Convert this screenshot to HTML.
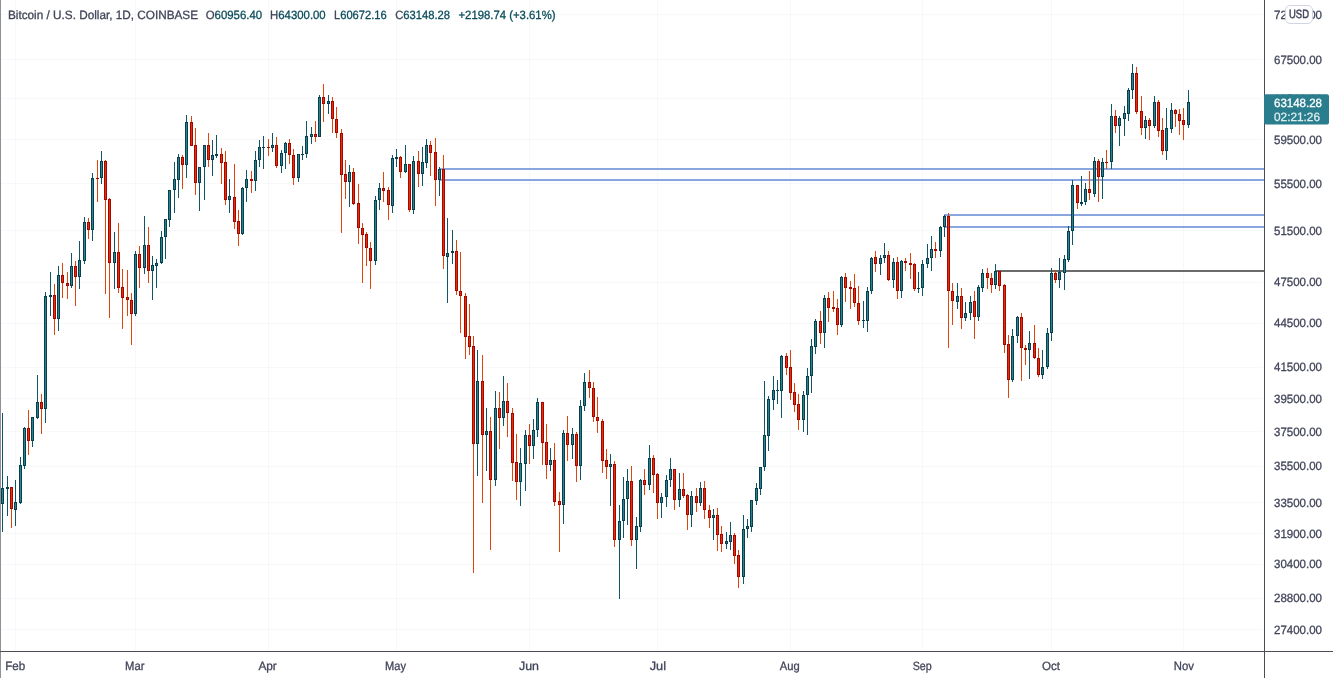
<!DOCTYPE html>
<html lang="en"><head><meta charset="utf-8"><title>BTCUSD 1D COINBASE</title>
<style>html,body{margin:0;padding:0;background:#fff;overflow:hidden}svg{display:block}text{font-family:"Liberation Sans","DejaVu Sans",sans-serif;font-size:12px;fill:#43465a;stroke:#43465a;stroke-width:.3px}.g{fill:#6a7899;fill-opacity:.055}.ub{fill:#06404d}.uf{fill:#2c8291}.uw{fill:#0f5766}.db{fill:#a80500}.df{fill:#df3206}.dw{fill:#e2440e}.bl{fill:#89a6df}.t{fill:#0b4c5c;stroke:#0b4c5c}</style></head><body>
<svg width="1333" height="678" viewBox="0 0 1333 678" shape-rendering="crispEdges">
<rect width="1333" height="678" fill="#fff"/>
<g class="g">
<rect x="1" y="14" width="1262" height="1"/>
<rect x="1" y="59" width="1262" height="1"/>
<rect x="1" y="98" width="1262" height="1"/>
<rect x="1" y="139" width="1262" height="1"/>
<rect x="1" y="183" width="1262" height="1"/>
<rect x="1" y="230" width="1262" height="1"/>
<rect x="1" y="282" width="1262" height="1"/>
<rect x="1" y="323" width="1262" height="1"/>
<rect x="1" y="367" width="1262" height="1"/>
<rect x="1" y="398" width="1262" height="1"/>
<rect x="1" y="431" width="1262" height="1"/>
<rect x="1" y="466" width="1262" height="1"/>
<rect x="1" y="502" width="1262" height="1"/>
<rect x="1" y="533" width="1262" height="1"/>
<rect x="1" y="564" width="1262" height="1"/>
<rect x="1" y="598" width="1262" height="1"/>
<rect x="1" y="629" width="1262" height="1"/>
<rect x="15" y="0" width="1" height="650"/>
<rect x="135" y="0" width="1" height="650"/>
<rect x="268" y="0" width="1" height="650"/>
<rect x="396" y="0" width="1" height="650"/>
<rect x="529" y="0" width="1" height="650"/>
<rect x="657" y="0" width="1" height="650"/>
<rect x="790" y="0" width="1" height="650"/>
<rect x="922" y="0" width="1" height="650"/>
<rect x="1051" y="0" width="1" height="650"/>
<rect x="1183" y="0" width="1" height="650"/>
</g>
<g class="bl">
<rect x="440" y="168" width="824" height="2"/>
<rect x="440" y="179" width="824" height="2"/>
<rect x="944" y="214" width="320" height="2"/>
<rect x="944" y="226" width="320" height="2"/>
</g>
<rect x="996" y="270" width="268" height="2" fill="#6a6a6a"/>
<path class="uw" d="M2 413h1v119h-1zM7 476h1v40h-1zM15 480h1v46h-1zM20 457h1v47h-1zM24 427h1v42h-1zM32 417h1v30h-1zM37 375h1v44h-1zM45 292h1v131h-1zM50 272h1v44h-1zM58 266h1v65h-1zM71 253h1v35h-1zM79 241h1v48h-1zM84 217h1v47h-1zM92 173h1v68h-1zM101 151h1v33h-1zM114 232h1v57h-1zM135 251h1v65h-1zM144 216h1v58h-1zM152 256h1v44h-1zM156 259h1v29h-1zM161 231h1v33h-1zM165 219h1v40h-1zM169 190h1v37h-1zM174 162h1v51h-1zM178 154h1v44h-1zM186 115h1v63h-1zM199 167h1v44h-1zM204 145h1v55h-1zM212 140h1v36h-1zM216 135h1v23h-1zM229 179h1v34h-1zM242 187h1v48h-1zM246 170h1v32h-1zM255 151h1v40h-1zM259 140h1v27h-1zM263 136h1v33h-1zM272 133h1v19h-1zM281 150h1v23h-1zM285 142h1v27h-1zM298 154h1v28h-1zM302 146h1v14h-1zM306 121h1v37h-1zM311 127h1v17h-1zM319 95h1v42h-1zM328 95h1v19h-1zM349 165h1v42h-1zM375 196h1v69h-1zM379 183h1v27h-1zM392 155h1v58h-1zM396 149h1v18h-1zM405 145h1v28h-1zM413 156h1v58h-1zM422 147h1v39h-1zM426 139h1v29h-1zM439 167h1v29h-1zM447 218h1v85h-1zM452 230h1v34h-1zM477 350h1v126h-1zM486 408h1v63h-1zM495 391h1v95h-1zM503 376h1v50h-1zM520 448h1v58h-1zM525 430h1v61h-1zM533 419h1v40h-1zM537 398h1v39h-1zM550 448h1v23h-1zM563 430h1v94h-1zM572 428h1v31h-1zM580 400h1v80h-1zM584 373h1v38h-1zM610 454h1v52h-1zM619 505h1v94h-1zM623 477h1v61h-1zM627 469h1v56h-1zM636 517h1v52h-1zM640 479h1v53h-1zM649 445h1v45h-1zM661 493h1v25h-1zM666 475h1v32h-1zM670 458h1v29h-1zM679 473h1v34h-1zM691 491h1v36h-1zM700 482h1v24h-1zM713 509h1v31h-1zM726 532h1v17h-1zM730 522h1v28h-1zM743 515h1v69h-1zM747 519h1v19h-1zM751 500h1v32h-1zM756 483h1v22h-1zM760 467h1v28h-1zM764 381h1v90h-1zM768 396h1v55h-1zM773 376h1v34h-1zM777 380h1v24h-1zM781 355h1v63h-1zM803 391h1v41h-1zM807 368h1v67h-1zM811 339h1v54h-1zM815 319h1v35h-1zM824 295h1v53h-1zM841 276h1v51h-1zM863 301h1v27h-1zM867 287h1v45h-1zM871 257h1v37h-1zM880 255h1v20h-1zM884 243h1v20h-1zM893 258h1v30h-1zM901 260h1v38h-1zM918 272h1v21h-1zM922 260h1v36h-1zM927 244h1v24h-1zM931 236h1v35h-1zM940 226h1v31h-1zM944 215h1v22h-1zM957 283h1v26h-1zM965 302h1v19h-1zM970 296h1v24h-1zM978 285h1v36h-1zM982 269h1v23h-1zM995 264h1v25h-1zM1012 329h1v53h-1zM1017 316h1v27h-1zM1029 331h1v48h-1zM1042 350h1v29h-1zM1047 328h1v41h-1zM1051 268h1v73h-1zM1059 258h1v30h-1zM1064 255h1v35h-1zM1068 226h1v36h-1zM1072 180h1v65h-1zM1081 176h1v30h-1zM1085 183h1v22h-1zM1094 157h1v40h-1zM1102 158h1v41h-1zM1111 104h1v65h-1zM1119 116h1v30h-1zM1124 106h1v30h-1zM1128 88h1v33h-1zM1132 64h1v35h-1zM1145 116h1v23h-1zM1154 96h1v32h-1zM1166 108h1v52h-1zM1171 103h1v30h-1zM1188 90h1v38h-1z"/>
<path class="dw" d="M11 487h1v41h-1zM28 410h1v45h-1zM41 394h1v40h-1zM54 284h1v51h-1zM62 263h1v35h-1zM67 272h1v27h-1zM75 261h1v45h-1zM88 218h1v21h-1zM97 160h1v42h-1zM105 160h1v134h-1zM109 198h1v120h-1zM118 223h1v70h-1zM122 269h1v60h-1zM127 270h1v46h-1zM131 293h1v52h-1zM139 246h1v42h-1zM148 227h1v56h-1zM182 155h1v34h-1zM191 116h1v30h-1zM195 128h1v67h-1zM208 133h1v34h-1zM221 148h1v36h-1zM225 151h1v54h-1zM234 164h1v65h-1zM238 210h1v36h-1zM251 171h1v22h-1zM268 139h1v17h-1zM276 137h1v31h-1zM289 139h1v25h-1zM293 149h1v36h-1zM315 121h1v21h-1zM323 84h1v38h-1zM332 97h1v36h-1zM336 107h1v31h-1zM341 129h1v104h-1zM345 160h1v39h-1zM353 168h1v37h-1zM358 184h1v60h-1zM362 223h1v60h-1zM366 232h1v34h-1zM370 242h1v47h-1zM383 172h1v30h-1zM388 187h1v33h-1zM400 156h1v22h-1zM409 164h1v48h-1zM418 151h1v36h-1zM430 141h1v35h-1zM435 138h1v68h-1zM443 155h1v114h-1zM456 240h1v55h-1zM460 252h1v81h-1zM465 293h1v66h-1zM469 304h1v51h-1zM473 336h1v237h-1zM482 355h1v148h-1zM490 417h1v133h-1zM499 392h1v57h-1zM507 383h1v54h-1zM512 408h1v73h-1zM516 434h1v66h-1zM529 424h1v40h-1zM542 402h1v63h-1zM546 424h1v55h-1zM554 443h1v63h-1zM559 492h1v60h-1zM567 416h1v45h-1zM576 432h1v50h-1zM589 370h1v28h-1zM593 382h1v40h-1zM597 397h1v36h-1zM602 419h1v54h-1zM606 449h1v30h-1zM614 461h1v86h-1zM631 466h1v80h-1zM644 469h1v26h-1zM653 455h1v38h-1zM657 473h1v46h-1zM674 469h1v41h-1zM683 473h1v25h-1zM687 494h1v36h-1zM696 488h1v24h-1zM704 481h1v38h-1zM709 505h1v23h-1zM717 508h1v43h-1zM721 526h1v26h-1zM734 533h1v31h-1zM738 550h1v38h-1zM786 353h1v22h-1zM790 350h1v50h-1zM794 383h1v29h-1zM798 394h1v36h-1zM820 311h1v33h-1zM828 292h1v30h-1zM833 291h1v21h-1zM837 299h1v36h-1zM845 273h1v29h-1zM850 281h1v28h-1zM854 274h1v33h-1zM858 286h1v39h-1zM875 251h1v21h-1zM888 251h1v30h-1zM897 257h1v42h-1zM905 258h1v13h-1zM910 253h1v26h-1zM914 263h1v28h-1zM935 242h1v16h-1zM948 213h1v135h-1zM952 283h1v42h-1zM961 288h1v41h-1zM974 291h1v48h-1zM987 268h1v21h-1zM991 273h1v20h-1zM999 271h1v20h-1zM1004 284h1v69h-1zM1008 335h1v63h-1zM1021 313h1v68h-1zM1025 345h1v20h-1zM1034 325h1v34h-1zM1038 348h1v29h-1zM1055 270h1v13h-1zM1077 185h1v24h-1zM1089 171h1v29h-1zM1098 159h1v43h-1zM1106 150h1v19h-1zM1115 110h1v23h-1zM1136 67h1v47h-1zM1141 96h1v39h-1zM1149 118h1v22h-1zM1158 100h1v37h-1zM1162 118h1v37h-1zM1175 109h1v18h-1zM1179 109h1v26h-1zM1183 108h1v32h-1z"/>
<path class="ub" d="M1 488h3v16h-3zM6 487h3v2h-3zM14 502h3v8h-3zM19 465h3v38h-3zM23 428h3v38h-3zM31 417h3v24h-3zM36 402h3v16h-3zM44 296h3v113h-3zM49 295h3v2h-3zM57 275h3v44h-3zM70 266h3v20h-3zM78 260h3v17h-3zM83 222h3v39h-3zM91 178h3v52h-3zM100 161h3v17h-3zM113 252h3v11h-3zM134 254h3v60h-3zM143 245h3v23h-3zM151 265h3v6h-3zM155 263h3v3h-3zM160 237h3v26h-3zM164 219h3v18h-3zM168 190h3v30h-3zM173 179h3v11h-3zM177 157h3v23h-3zM185 122h3v43h-3zM198 167h3v16h-3zM203 145h3v22h-3zM211 155h3v5h-3zM215 154h3v2h-3zM228 196h3v4h-3zM241 188h3v46h-3zM245 179h3v9h-3zM254 160h3v21h-3zM258 147h3v13h-3zM262 147h3v1h-3zM271 145h3v3h-3zM280 153h3v13h-3zM284 143h3v10h-3zM297 154h3v24h-3zM301 154h3v1h-3zM305 136h3v18h-3zM310 134h3v3h-3zM318 97h3v40h-3zM327 101h3v3h-3zM348 172h3v10h-3zM374 200h3v61h-3zM378 188h3v12h-3zM391 158h3v48h-3zM395 157h3v2h-3zM404 164h3v8h-3zM412 161h3v49h-3zM421 162h3v12h-3zM425 145h3v18h-3zM438 169h3v11h-3zM446 253h3v4h-3zM451 251h3v2h-3zM476 381h3v63h-3zM485 431h3v4h-3zM494 408h3v72h-3zM502 401h3v17h-3zM519 463h3v19h-3zM524 435h3v29h-3zM532 430h3v16h-3zM536 402h3v28h-3zM549 460h3v5h-3zM562 433h3v72h-3zM571 434h3v11h-3zM579 406h3v60h-3zM583 382h3v24h-3zM609 464h3v3h-3zM618 521h3v19h-3zM622 499h3v22h-3zM626 481h3v18h-3zM635 526h3v14h-3zM639 480h3v47h-3zM648 458h3v27h-3zM660 497h3v6h-3zM665 480h3v17h-3zM669 469h3v11h-3zM678 489h3v11h-3zM690 496h3v19h-3zM699 488h3v15h-3zM712 515h3v3h-3zM725 541h3v3h-3zM729 535h3v7h-3zM742 529h3v48h-3zM746 526h3v3h-3zM750 500h3v27h-3zM755 488h3v13h-3zM759 467h3v22h-3zM763 435h3v32h-3zM767 399h3v37h-3zM772 390h3v10h-3zM776 390h3v1h-3zM780 356h3v35h-3zM802 395h3v25h-3zM806 376h3v19h-3zM810 346h3v30h-3zM814 321h3v26h-3zM823 298h3v35h-3zM840 277h3v48h-3zM862 320h3v1h-3zM866 291h3v30h-3zM870 258h3v33h-3zM879 258h3v6h-3zM883 255h3v3h-3zM892 262h3v18h-3zM900 261h3v30h-3zM917 288h3v1h-3zM921 264h3v24h-3zM926 258h3v6h-3zM930 249h3v9h-3zM939 227h3v24h-3zM943 216h3v11h-3zM956 296h3v6h-3zM964 313h3v5h-3zM969 302h3v11h-3zM977 287h3v30h-3zM981 273h3v15h-3zM994 271h3v14h-3zM1011 336h3v44h-3zM1016 317h3v19h-3zM1028 343h3v7h-3zM1041 367h3v8h-3zM1046 333h3v34h-3zM1050 273h3v60h-3zM1058 272h3v8h-3zM1063 259h3v14h-3zM1067 231h3v29h-3zM1071 185h3v46h-3zM1080 202h3v2h-3zM1084 189h3v13h-3zM1093 161h3v33h-3zM1101 162h3v15h-3zM1110 116h3v46h-3zM1118 118h3v8h-3zM1123 113h3v6h-3zM1127 90h3v24h-3zM1131 73h3v17h-3zM1144 120h3v8h-3zM1153 102h3v24h-3zM1165 128h3v23h-3zM1170 110h3v19h-3zM1187 102h3v23h-3z"/>
<path class="db" d="M10 487h3v22h-3zM27 428h3v13h-3zM40 402h3v7h-3zM53 295h3v24h-3zM61 275h3v8h-3zM66 283h3v3h-3zM74 266h3v11h-3zM87 222h3v8h-3zM96 178h3v1h-3zM104 161h3v39h-3zM108 199h3v64h-3zM117 252h3v36h-3zM121 287h3v11h-3zM126 297h3v3h-3zM130 300h3v14h-3zM138 254h3v14h-3zM147 245h3v26h-3zM181 157h3v8h-3zM190 122h3v24h-3zM194 145h3v38h-3zM207 145h3v15h-3zM220 154h3v9h-3zM224 162h3v38h-3zM233 197h3v25h-3zM237 221h3v13h-3zM250 179h3v2h-3zM267 147h3v1h-3zM275 145h3v21h-3zM288 143h3v12h-3zM292 155h3v23h-3zM314 134h3v3h-3zM322 97h3v7h-3zM331 101h3v18h-3zM335 119h3v14h-3zM340 133h3v42h-3zM344 174h3v8h-3zM352 172h3v32h-3zM357 203h3v25h-3zM361 228h3v7h-3zM365 234h3v14h-3zM369 248h3v13h-3zM382 188h3v3h-3zM387 190h3v15h-3zM399 157h3v15h-3zM408 164h3v46h-3zM417 161h3v13h-3zM429 145h3v8h-3zM434 152h3v28h-3zM442 169h3v87h-3zM455 251h3v40h-3zM459 291h3v5h-3zM464 296h3v41h-3zM468 336h3v11h-3zM472 346h3v98h-3zM481 381h3v54h-3zM489 431h3v49h-3zM498 408h3v10h-3zM506 401h3v12h-3zM511 413h3v50h-3zM515 462h3v20h-3zM528 435h3v11h-3zM541 402h3v41h-3zM545 442h3v23h-3zM553 460h3v42h-3zM558 501h3v4h-3zM566 433h3v12h-3zM575 434h3v32h-3zM588 382h3v6h-3zM592 388h3v29h-3zM596 417h3v4h-3zM601 421h3v40h-3zM605 460h3v7h-3zM613 464h3v76h-3zM630 481h3v59h-3zM643 480h3v5h-3zM652 458h3v17h-3zM656 474h3v29h-3zM673 469h3v31h-3zM682 489h3v7h-3zM686 495h3v20h-3zM695 496h3v7h-3zM703 488h3v22h-3zM708 510h3v8h-3zM716 515h3v20h-3zM720 534h3v10h-3zM733 535h3v21h-3zM737 555h3v22h-3zM785 356h3v12h-3zM789 367h3v26h-3zM793 392h3v13h-3zM797 404h3v16h-3zM819 321h3v12h-3zM827 298h3v10h-3zM832 307h3v2h-3zM836 308h3v17h-3zM844 277h3v11h-3zM849 287h3v2h-3zM853 288h3v15h-3zM857 303h3v18h-3zM874 257h3v7h-3zM887 255h3v25h-3zM896 262h3v29h-3zM904 261h3v2h-3zM909 263h3v2h-3zM913 264h3v25h-3zM934 249h3v2h-3zM947 216h3v75h-3zM951 291h3v10h-3zM960 296h3v22h-3zM973 301h3v16h-3zM986 273h3v5h-3zM990 278h3v7h-3zM998 271h3v15h-3zM1003 285h3v60h-3zM1007 344h3v36h-3zM1020 317h3v31h-3zM1024 348h3v2h-3zM1033 343h3v15h-3zM1037 358h3v17h-3zM1054 273h3v7h-3zM1076 185h3v18h-3zM1088 189h3v4h-3zM1097 161h3v16h-3zM1105 162h3v1h-3zM1114 116h3v10h-3zM1135 73h3v39h-3zM1140 111h3v17h-3zM1148 120h3v6h-3zM1157 102h3v29h-3zM1161 130h3v21h-3zM1174 110h3v4h-3zM1178 114h3v7h-3zM1182 120h3v5h-3z"/>
<path class="uf" d="M2 489h1v14h-1zM15 503h1v6h-1zM20 466h1v36h-1zM24 429h1v36h-1zM32 418h1v22h-1zM37 403h1v14h-1zM45 297h1v111h-1zM58 276h1v42h-1zM71 267h1v18h-1zM79 261h1v15h-1zM84 223h1v37h-1zM92 179h1v50h-1zM101 162h1v15h-1zM114 253h1v9h-1zM135 255h1v58h-1zM144 246h1v21h-1zM152 266h1v4h-1zM156 264h1v1h-1zM161 238h1v24h-1zM165 220h1v16h-1zM169 191h1v28h-1zM174 180h1v9h-1zM178 158h1v21h-1zM186 123h1v41h-1zM199 168h1v14h-1zM204 146h1v20h-1zM212 156h1v3h-1zM229 197h1v2h-1zM242 189h1v44h-1zM246 180h1v7h-1zM255 161h1v19h-1zM259 148h1v11h-1zM272 146h1v1h-1zM281 154h1v11h-1zM285 144h1v8h-1zM298 155h1v22h-1zM306 137h1v16h-1zM311 135h1v1h-1zM319 98h1v38h-1zM328 102h1v1h-1zM349 173h1v8h-1zM375 201h1v59h-1zM379 189h1v10h-1zM392 159h1v46h-1zM405 165h1v6h-1zM413 162h1v47h-1zM422 163h1v10h-1zM426 146h1v16h-1zM439 170h1v9h-1zM447 254h1v2h-1zM477 382h1v61h-1zM486 432h1v2h-1zM495 409h1v70h-1zM503 402h1v15h-1zM520 464h1v17h-1zM525 436h1v27h-1zM533 431h1v14h-1zM537 403h1v26h-1zM550 461h1v3h-1zM563 434h1v70h-1zM572 435h1v9h-1zM580 407h1v58h-1zM584 383h1v22h-1zM610 465h1v1h-1zM619 522h1v17h-1zM623 500h1v20h-1zM627 482h1v16h-1zM636 527h1v12h-1zM640 481h1v45h-1zM649 459h1v25h-1zM661 498h1v4h-1zM666 481h1v15h-1zM670 470h1v9h-1zM679 490h1v9h-1zM691 497h1v17h-1zM700 489h1v13h-1zM713 516h1v1h-1zM726 542h1v1h-1zM730 536h1v5h-1zM743 530h1v46h-1zM747 527h1v1h-1zM751 501h1v25h-1zM756 489h1v11h-1zM760 468h1v20h-1zM764 436h1v30h-1zM768 400h1v35h-1zM773 391h1v8h-1zM781 357h1v33h-1zM803 396h1v23h-1zM807 377h1v17h-1zM811 347h1v28h-1zM815 322h1v24h-1zM824 299h1v33h-1zM841 278h1v46h-1zM867 292h1v28h-1zM871 259h1v31h-1zM880 259h1v4h-1zM884 256h1v1h-1zM893 263h1v16h-1zM901 262h1v28h-1zM922 265h1v22h-1zM927 259h1v4h-1zM931 250h1v7h-1zM940 228h1v22h-1zM944 217h1v9h-1zM957 297h1v4h-1zM965 314h1v3h-1zM970 303h1v9h-1zM978 288h1v28h-1zM982 274h1v13h-1zM995 272h1v12h-1zM1012 337h1v42h-1zM1017 318h1v17h-1zM1029 344h1v5h-1zM1042 368h1v6h-1zM1047 334h1v32h-1zM1051 274h1v58h-1zM1059 273h1v6h-1zM1064 260h1v12h-1zM1068 232h1v27h-1zM1072 186h1v44h-1zM1085 190h1v11h-1zM1094 162h1v31h-1zM1102 163h1v13h-1zM1111 117h1v44h-1zM1119 119h1v6h-1zM1124 114h1v4h-1zM1128 91h1v22h-1zM1132 74h1v15h-1zM1145 121h1v6h-1zM1154 103h1v22h-1zM1166 129h1v21h-1zM1171 111h1v17h-1zM1188 103h1v21h-1z"/>
<path class="df" d="M11 488h1v20h-1zM28 429h1v11h-1zM41 403h1v5h-1zM54 296h1v22h-1zM62 276h1v6h-1zM67 284h1v1h-1zM75 267h1v9h-1zM88 223h1v6h-1zM105 162h1v37h-1zM109 200h1v62h-1zM118 253h1v34h-1zM122 288h1v9h-1zM127 298h1v1h-1zM131 301h1v12h-1zM139 255h1v12h-1zM148 246h1v24h-1zM182 158h1v6h-1zM191 123h1v22h-1zM195 146h1v36h-1zM208 146h1v13h-1zM221 155h1v7h-1zM225 163h1v36h-1zM234 198h1v23h-1zM238 222h1v11h-1zM276 146h1v19h-1zM289 144h1v10h-1zM293 156h1v21h-1zM315 135h1v1h-1zM323 98h1v5h-1zM332 102h1v16h-1zM336 120h1v12h-1zM341 134h1v40h-1zM345 175h1v6h-1zM353 173h1v30h-1zM358 204h1v23h-1zM362 229h1v5h-1zM366 235h1v12h-1zM370 249h1v11h-1zM383 189h1v1h-1zM388 191h1v13h-1zM400 158h1v13h-1zM409 165h1v44h-1zM418 162h1v11h-1zM430 146h1v6h-1zM435 153h1v26h-1zM443 170h1v85h-1zM456 252h1v38h-1zM460 292h1v3h-1zM465 297h1v39h-1zM469 337h1v9h-1zM473 347h1v96h-1zM482 382h1v52h-1zM490 432h1v47h-1zM499 409h1v8h-1zM507 402h1v10h-1zM512 414h1v48h-1zM516 463h1v18h-1zM529 436h1v9h-1zM542 403h1v39h-1zM546 443h1v21h-1zM554 461h1v40h-1zM559 502h1v2h-1zM567 434h1v10h-1zM576 435h1v30h-1zM589 383h1v4h-1zM593 389h1v27h-1zM597 418h1v2h-1zM602 422h1v38h-1zM606 461h1v5h-1zM614 465h1v74h-1zM631 482h1v57h-1zM644 481h1v3h-1zM653 459h1v15h-1zM657 475h1v27h-1zM674 470h1v29h-1zM683 490h1v5h-1zM687 496h1v18h-1zM696 497h1v5h-1zM704 489h1v20h-1zM709 511h1v6h-1zM717 516h1v18h-1zM721 535h1v8h-1zM734 536h1v19h-1zM738 556h1v20h-1zM786 357h1v10h-1zM790 368h1v24h-1zM794 393h1v11h-1zM798 405h1v14h-1zM820 322h1v10h-1zM828 299h1v8h-1zM837 309h1v15h-1zM845 278h1v9h-1zM854 289h1v13h-1zM858 304h1v16h-1zM875 258h1v5h-1zM888 256h1v23h-1zM897 263h1v27h-1zM914 265h1v23h-1zM948 217h1v73h-1zM952 292h1v8h-1zM961 297h1v20h-1zM974 302h1v14h-1zM987 274h1v3h-1zM991 279h1v5h-1zM999 272h1v13h-1zM1004 286h1v58h-1zM1008 345h1v34h-1zM1021 318h1v29h-1zM1034 344h1v13h-1zM1038 359h1v15h-1zM1055 274h1v5h-1zM1077 186h1v16h-1zM1089 190h1v2h-1zM1098 162h1v14h-1zM1115 117h1v8h-1zM1136 74h1v37h-1zM1141 112h1v15h-1zM1149 121h1v4h-1zM1158 103h1v27h-1zM1162 131h1v19h-1zM1175 111h1v2h-1zM1179 115h1v5h-1zM1183 121h1v3h-1z"/>
<rect x="0" y="0" width="1" height="678" fill="#8f909a"/>
<rect x="0" y="651" width="1333" height="1" fill="#4c4c55"/>
<rect x="1264" y="0" width="1" height="678" fill="#4c4c55"/>
<g shape-rendering="auto" text-rendering="geometricPrecision">
<text x="1274" y="18.9" textLength="48" lengthAdjust="spacingAndGlyphs">72500.00</text>
<text x="1274" y="64.0" textLength="48" lengthAdjust="spacingAndGlyphs">67500.00</text>
<text x="1274" y="102.6" textLength="48" lengthAdjust="spacingAndGlyphs">63500.00</text>
<text x="1274" y="143.7" textLength="48" lengthAdjust="spacingAndGlyphs">59500.00</text>
<text x="1274" y="187.7" textLength="48" lengthAdjust="spacingAndGlyphs">55500.00</text>
<text x="1274" y="235.0" textLength="48" lengthAdjust="spacingAndGlyphs">51500.00</text>
<text x="1274" y="286.1" textLength="48" lengthAdjust="spacingAndGlyphs">47500.00</text>
<text x="1274" y="327.3" textLength="48" lengthAdjust="spacingAndGlyphs">44500.00</text>
<text x="1274" y="371.4" textLength="48" lengthAdjust="spacingAndGlyphs">41500.00</text>
<text x="1274" y="402.6" textLength="48" lengthAdjust="spacingAndGlyphs">39500.00</text>
<text x="1274" y="435.5" textLength="48" lengthAdjust="spacingAndGlyphs">37500.00</text>
<text x="1274" y="470.1" textLength="48" lengthAdjust="spacingAndGlyphs">35500.00</text>
<text x="1274" y="506.7" textLength="48" lengthAdjust="spacingAndGlyphs">33500.00</text>
<text x="1274" y="537.7" textLength="48" lengthAdjust="spacingAndGlyphs">31900.00</text>
<text x="1274" y="568.1" textLength="48" lengthAdjust="spacingAndGlyphs">30400.00</text>
<text x="1274" y="602.3" textLength="48" lengthAdjust="spacingAndGlyphs">28800.00</text>
<text x="1274" y="633.8" textLength="48" lengthAdjust="spacingAndGlyphs">27400.00</text>
<rect x="1264" y="94.3" width="65" height="30.2" rx="2" fill="#2a7d8c"/>
<text x="1274" y="106.5" textLength="48" lengthAdjust="spacingAndGlyphs" style="fill:#fff;stroke:#fff">63148.28</text>
<text x="1274" y="120.6" textLength="46" lengthAdjust="spacingAndGlyphs" style="fill:#dcedf0;stroke:#dcedf0">02:21:26</text>
<rect x="1285.5" y="5.5" width="27" height="18" rx="4.5" fill="#fff" stroke="#d2d6e3"/>
<text x="1289" y="17.7" style="stroke-width:.5px" textLength="20" lengthAdjust="spacingAndGlyphs">USD</text>
<text x="5.2" y="669.7" textLength="20.0" lengthAdjust="spacingAndGlyphs">Feb</text>
<text x="125.0" y="669.7" textLength="19.4" lengthAdjust="spacingAndGlyphs">Mar</text>
<text x="258.4" y="669.7" textLength="18.4" lengthAdjust="spacingAndGlyphs">Apr</text>
<text x="385.0" y="669.7" textLength="21.0" lengthAdjust="spacingAndGlyphs">May</text>
<text x="519.0" y="669.7" textLength="20.0" lengthAdjust="spacingAndGlyphs">Jun</text>
<text x="649.7" y="669.7" textLength="16.3" lengthAdjust="spacingAndGlyphs">Jul</text>
<text x="779.8" y="669.7" textLength="19.9" lengthAdjust="spacingAndGlyphs">Aug</text>
<text x="912.7" y="669.7" textLength="19.0" lengthAdjust="spacingAndGlyphs">Sep</text>
<text x="1041.9" y="669.7" textLength="18.0" lengthAdjust="spacingAndGlyphs">Oct</text>
<text x="1173.8" y="669.7" textLength="20.1" lengthAdjust="spacingAndGlyphs">Nov</text>
<text x="8" y="19" textLength="190" lengthAdjust="spacingAndGlyphs">Bitcoin / U.S. Dollar, 1D, COINBASE</text>
<text x="205.7" y="19" textLength="56.4" lengthAdjust="spacingAndGlyphs">O<tspan class="t">60956.40</tspan></text>
<text x="270.1" y="19" textLength="55.6" lengthAdjust="spacingAndGlyphs">H<tspan class="t">64300.00</tspan></text>
<text x="334" y="19" textLength="52.7" lengthAdjust="spacingAndGlyphs">L<tspan class="t">60672.16</tspan></text>
<text x="395.2" y="19" textLength="54.8" lengthAdjust="spacingAndGlyphs">C<tspan class="t">63148.28</tspan></text>
<text x="458.5" y="19" class="t" textLength="97" lengthAdjust="spacingAndGlyphs">+2198.74 (+3.61%)</text>
</g>
</svg></body></html>
